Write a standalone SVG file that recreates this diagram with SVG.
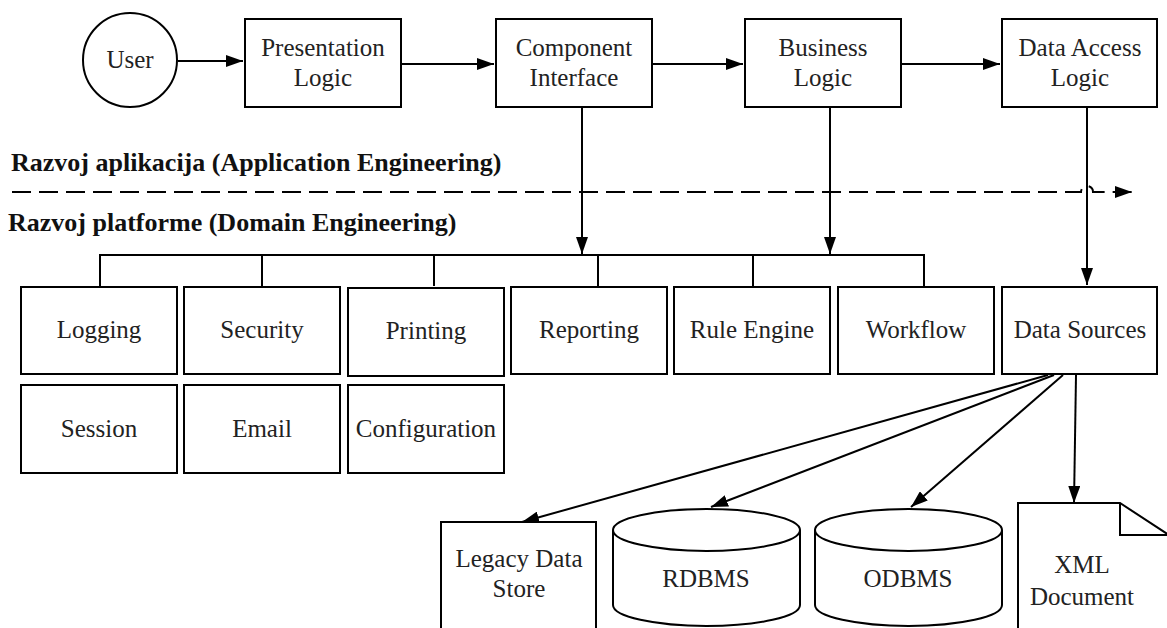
<svg xmlns="http://www.w3.org/2000/svg" width="1167" height="628" viewBox="0 0 1167 628">
<style>
.b{fill:#fff;stroke:#000;stroke-width:2}
.t{font-family:"Liberation Serif","Times New Roman",serif;font-size:25px;fill:#222;text-anchor:middle}
.h{font-family:"Liberation Serif","Times New Roman",serif;font-size:26px;font-weight:bold;fill:#111}
.c{fill:none;stroke:#000;stroke-width:2}
</style>
<defs>
<marker id="a" markerUnits="userSpaceOnUse" markerWidth="17" markerHeight="12" refX="17" refY="6" orient="auto"><path d="M0,0 L17,6 L0,12 z" fill="#000"/></marker>
</defs>
<rect width="1167" height="628" fill="#fff"/>
<text class="h" x="11" y="171">Razvoj aplikacija (Application Engineering)</text>
<text class="h" x="8" y="231">Razvoj platforme (Domain Engineering)</text>
<g id="connectors">
<path class="c" d="M178,61 L243,61" marker-end="url(#a)"/>
<path class="c" d="M401,64 L494,64" marker-end="url(#a)"/>
<path class="c" d="M652,64 L743,64" marker-end="url(#a)"/>
<path class="c" d="M901,64 L1000,64" marker-end="url(#a)"/>
<path class="c" d="M582,107 L582,254" marker-end="url(#a)"/>
<path class="c" d="M830,107 L830,254" marker-end="url(#a)"/>
<path class="c" d="M1087,107 L1087,285" marker-end="url(#a)"/>
<path class="c" d="M12,192 L1081,192 A6,6 0 0 1 1093,192 L1132,192" stroke-dasharray="19 8" marker-end="url(#a)"/>
<path class="c" d="M100,286 L100,255 L924,255 L924,286 M262,255 L262,286 M434,255 L434,286 M598,255 L598,286 M753,255 L753,286"/>
<path class="c" d="M1048,375 L522,522" marker-end="url(#a)"/>
<path class="c" d="M1054,375 L711,507" marker-end="url(#a)"/>
<path class="c" d="M1063,375 L911,507" marker-end="url(#a)"/>
<path class="c" d="M1076,375 L1074,503" marker-end="url(#a)"/>
</g>
<g id="user"><circle class="b" cx="130" cy="60" r="47"/><text class="t" x="130" y="68">User</text></g>
<g id="presentation"><rect class="b" x="245" y="19" width="156" height="88"/><text class="t" x="323" y="56">Presentation</text><text class="t" x="323" y="86">Logic</text></g>
<g id="component"><rect class="b" x="496" y="19" width="156" height="88"/><text class="t" x="574" y="56">Component</text><text class="t" x="574" y="86">Interface</text></g>
<g id="business"><rect class="b" x="745" y="19" width="156" height="88"/><text class="t" x="823" y="56">Business</text><text class="t" x="823" y="86">Logic</text></g>
<g id="dataaccess"><rect class="b" x="1002" y="19" width="155" height="88"/><text class="t" x="1080" y="56">Data Access</text><text class="t" x="1080" y="86">Logic</text></g>
<g id="logging"><rect class="b" x="21" y="287" width="156" height="87"/><text class="t" x="99" y="338">Logging</text></g>
<g id="security"><rect class="b" x="184" y="287" width="156" height="87"/><text class="t" x="262" y="338">Security</text></g>
<g id="printing"><rect class="b" x="348" y="288" width="156" height="88"/><text class="t" x="426" y="339">Printing</text></g>
<g id="reporting"><rect class="b" x="511" y="287" width="156" height="87"/><text class="t" x="589" y="338">Reporting</text></g>
<g id="ruleengine"><rect class="b" x="674" y="287" width="156" height="87"/><text class="t" x="752" y="338">Rule Engine</text></g>
<g id="workflow"><rect class="b" x="838" y="287" width="156" height="87"/><text class="t" x="916" y="338">Workflow</text></g>
<g id="datasources"><rect class="b" x="1002" y="287" width="155" height="87"/><text class="t" x="1080" y="338">Data Sources</text></g>
<g id="session"><rect class="b" x="21" y="385" width="156" height="88"/><text class="t" x="99" y="437">Session</text></g>
<g id="email"><rect class="b" x="184" y="385" width="156" height="88"/><text class="t" x="262" y="437">Email</text></g>
<g id="configuration"><rect class="b" x="348" y="385" width="156" height="88"/><text class="t" x="426" y="437">Configuration</text></g>
<g id="legacy"><rect class="b" x="441" y="522" width="155" height="130"/><text class="t" x="519" y="567">Legacy Data</text><text class="t" x="519" y="597">Store</text></g>
<g id="rdbms"><path class="b" d="M613,530 A93.5,21 0 0 1 800,530 L800,605 A93.5,21 0 0 1 613,605 Z"/><path class="c" d="M613,530 A93.5,21 0 0 0 800,530"/><text class="t" x="706" y="587">RDBMS</text></g>
<g id="odbms"><path class="b" d="M815,530 A93.5,21 0 0 1 1002,530 L1002,605 A93.5,21 0 0 1 815,605 Z"/><path class="c" d="M815,530 A93.5,21 0 0 0 1002,530"/><text class="t" x="908" y="587">ODBMS</text></g>
<g id="xml"><path class="b" d="M1018,503 L1120,503 L1169,535 L1169,650 L1018,650 Z"/><path class="c" d="M1120,503 L1120,535 L1169,535"/><text class="t" x="1082" y="573">XML</text><text class="t" x="1082" y="605">Document</text></g>
</svg>
